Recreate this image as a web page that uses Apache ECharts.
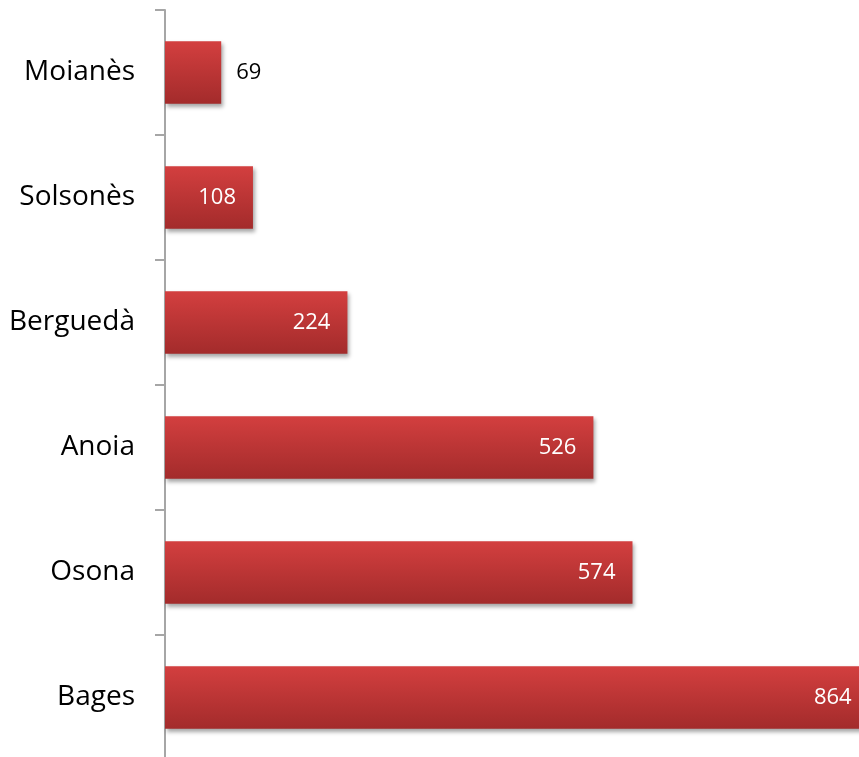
<!DOCTYPE html>
<html>
<head>
<meta charset="utf-8">
<script src="https://cdn.jsdelivr.net/npm/echarts@6/dist/echarts.min.js"></script>
<style>
  html, body { margin: 0; padding: 0; background: #fff; }
  #chart { width: 859px; height: 757px; }
</style>
</head>
<body>
<div id="chart"></div>
<script>
// comarques, de baix a dalt
const comarques = ['Bages', 'Osona', 'Anoia', 'Berguedà', 'Solsonès', 'Moianès']
const valors = [864, 574, 526, 224, 108, 69]

const chart = echarts.init(document.getElementById('chart'))

// barres petites: etiqueta a fora
const dades = valors.map(function (v) {
    if (v < 100) {
        return { value: v, label: { position: 'right', color: '#000', distance: 15 } }
    }
    return v
})

const option = {
    animation: false,
    grid: {
        left: 165,
        top: 10,
        width: 733,
        height: 750,
        containLabel: false,
        outerBoundsMode: 'none'
    },
    xAxis: {
        type: 'value',
        min: 0,
        max: 900,
        show: false
    },
    yAxis: {
        type: 'category',
        data: comarques,
        axisLine: { show: true, lineStyle: { color: '#a6a6a6', width: 2 } },
        axisTick: { show: true, length: 10, lineStyle: { color: '#a6a6a6', width: 2 } },
        axisLabel: {
            margin: 30,
            fontSize: 28,
            color: '#000',
            fontFamily: 'Open Sans'
        },
        splitLine: { show: false }
    },
    series: [{
        type: 'bar',
        data: dades,
        barCategoryGap: '50%',
        itemStyle: {
            color: new echarts.graphic.LinearGradient(0, 0, 0, 1, [
                { offset: 0, color: '#d33f3f' },
                { offset: 1, color: '#a32b2b' }
            ]),
            shadowColor: 'rgba(0,0,0,0.35)',
            shadowBlur: 4,
            shadowOffsetX: 2,
            shadowOffsetY: 3
        },
        label: {
            show: true,
            position: 'insideRight',
            distance: 17,
            color: '#fff',
            fontSize: 22,
            fontFamily: 'Open Sans'
        }
    }]
}
option && chart.setOption(option)
</script>
</body>
</html>
